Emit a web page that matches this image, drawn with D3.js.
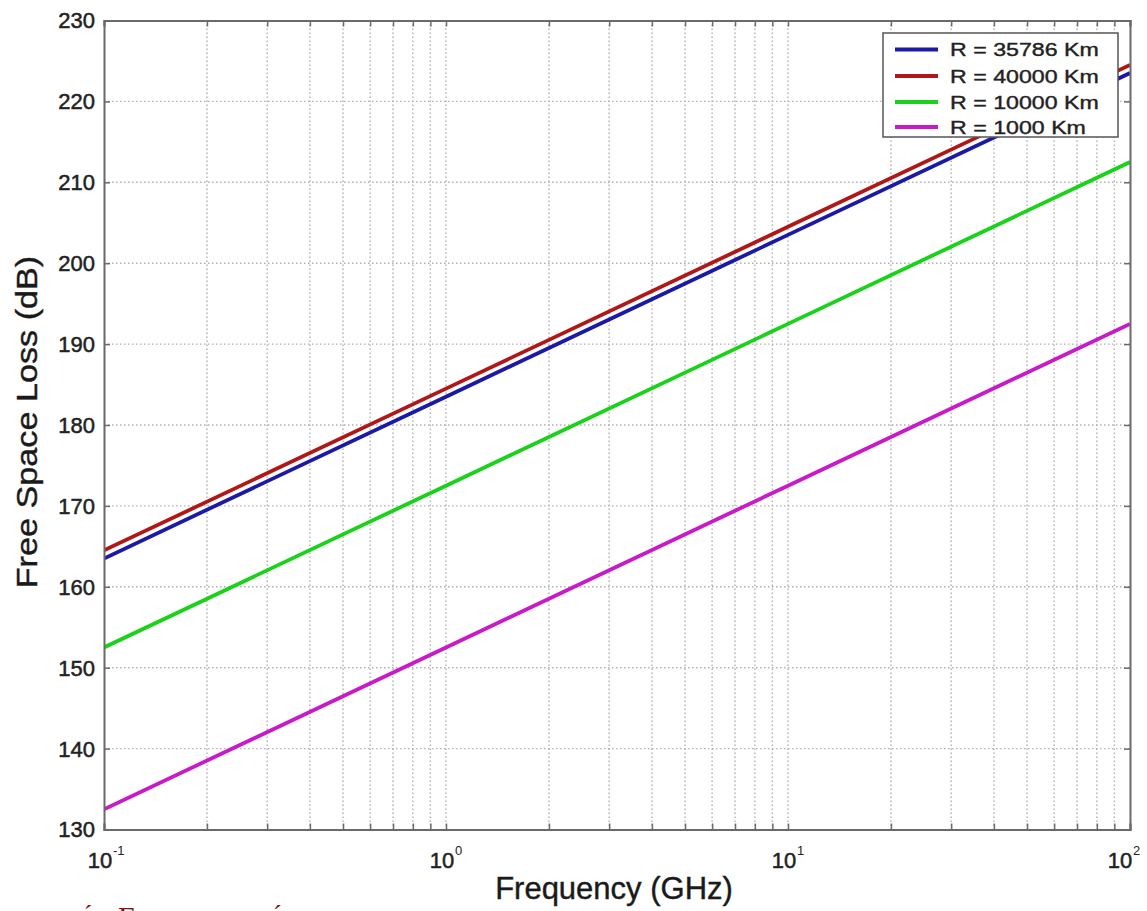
<!DOCTYPE html>
<html><head><meta charset="utf-8">
<script src="https://cdn.jsdelivr.net/npm/d3@7"></script>
<style>body{margin:0;background:#fff;} text{font-family:"Liberation Sans",Arial,sans-serif;}</style>
</head><body>
<svg id="c" width="1147" height="911"></svg>
<script>
const freqs = [0.1, 1, 10, 100];
const labels = ["R = 35786 Km", "R = 40000 Km", "R = 10000 Km", "R = 1000 Km"];
const colors = ["#1a1aa6", "#b01818", "#19d219", "#c81ac8"];
const loss35786 = [163.5, 183.5, 203.5, 223.5];
const loss40000 = [164.5, 184.5, 204.5, 224.5];
const loss10000 = [152.5, 172.5, 192.5, 212.5];
const loss1000  = [132.5, 152.5, 172.5, 192.5];
const series = [loss35786, loss40000, loss10000, loss1000];
const yTicks = [130,140,150,160,170,180,190,200,210,220,230];
const xDecades = [-1, 0, 1, 2];

const svg = d3.select("#c");
const L = 104, R = 1130, T = 20.5, B = 829.5;
const x = d3.scaleLog().domain([0.1, 100]).range([L, R]);
const y = d3.scaleLinear().domain([130, 230]).range([B, T]);

// grid
const minor = [];
for (let d = -1; d < 2; d++) for (let k = 1; k <= 9; k++) minor.push(k * Math.pow(10, d));
minor.push(100);
const g = svg.append("g");
g.selectAll("line.vg").data(minor.filter(v => v > 0.1 && v < 100)).enter().append("line")
  .attr("x1", d => x(d)).attr("x2", d => x(d)).attr("y1", T).attr("y2", B)
  .attr("stroke", "#b0b0b0").attr("stroke-width", 1.4).attr("stroke-dasharray", "1.5,2.5");
g.selectAll("line.hg").data(yTicks.filter(v => v > 130 && v < 230)).enter().append("line")
  .attr("x1", L).attr("x2", R).attr("y1", d => y(d)).attr("y2", d => y(d))
  .attr("stroke", "#b0b0b0").attr("stroke-width", 1.4).attr("stroke-dasharray", "1.5,2.5");

// clip
svg.append("clipPath").attr("id", "clip").append("rect").attr("x", L).attr("y", T).attr("width", R - L).attr("height", B - T);

const line = d3.line().x((d, i) => x(freqs[i])).y(d => y(d));
svg.append("g").attr("clip-path", "url(#clip)").selectAll("path").data(series).enter().append("path")
  .attr("d", d => line(d)).attr("fill", "none")
  .attr("stroke", (d, i) => colors[i]).attr("stroke-width", 3.8);

// axes (inward ticks)
const axB = d3.axisBottom(x).tickValues(minor).tickSize(-6).tickFormat("");
const axT = d3.axisTop(x).tickValues(minor).tickSize(-6).tickFormat("");
const axLft = d3.axisLeft(y).tickValues(yTicks).tickSize(-6).tickFormat("");
const axRgt = d3.axisRight(y).tickValues(yTicks).tickSize(-6).tickFormat("");
[[axB, `translate(0,${B})`], [axT, `translate(0,${T})`], [axLft, `translate(${L},0)`], [axRgt, `translate(${R},0)`]].forEach(([a, t]) => {
  const gg = svg.append("g").attr("transform", t).call(a);
  gg.select(".domain").attr("stroke", "#6a6a6a").attr("stroke-width", 2);
  gg.selectAll(".tick line").attr("stroke", "#6a6a6a").attr("stroke-width", 1.5);
});

// y tick labels
svg.append("g").selectAll("text").data(yTicks).enter().append("text")
  .attr("x", 95).attr("y", d => y(d)).attr("dy", "0.36em").attr("text-anchor", "end")
  .attr("font-size", 22).attr("fill", "#222").attr("stroke", "#222").attr("stroke-width", 0.5).text(d => d);

// x tick labels
const xl = svg.append("g").selectAll("g").data(xDecades).enter().append("g")
  .attr("transform", d => `translate(${x(Math.pow(10, d))},0)`);
xl.append("text").attr("x", d => d === 2 ? -10 : -4).attr("y", 868).attr("text-anchor", "middle")
  .attr("font-size", 22).attr("fill", "#222").attr("stroke", "#222").attr("stroke-width", 0.5).text("10");
xl.append("text").attr("x", d => d === 2 ? 3 : 9).attr("y", 855).attr("text-anchor", "start")
  .attr("font-size", 13).attr("fill", "#222").text(d => d);

// axis titles
svg.append("text").attr("x", 614).attr("y", 899).attr("text-anchor", "middle")
  .attr("font-size", 31).attr("fill", "#1a1a1a").attr("stroke", "#1a1a1a").attr("stroke-width", 0.4).text("Frequency (GHz)");
svg.append("text").attr("transform", "translate(37,422) rotate(-90) scale(1.14,1)").attr("text-anchor", "middle")
  .attr("font-size", 30).attr("fill", "#1a1a1a").attr("stroke", "#1a1a1a").attr("stroke-width", 0.4).text("Free Space Loss (dB)");

// legend
const lg = svg.append("g");
lg.append("rect").attr("x", 883).attr("y", 33).attr("width", 235).attr("height", 104)
  .attr("fill", "#fff").attr("stroke", "#555").attr("stroke-width", 1.5);
const rows = [49.5, 76, 102, 127];
lg.selectAll("line").data(labels).enter().append("line")
  .attr("x1", 895).attr("x2", 938).attr("y1", (d, i) => rows[i]).attr("y2", (d, i) => rows[i])
  .attr("stroke", (d, i) => colors[i]).attr("stroke-width", 3.8);
lg.selectAll("text").data(labels).enter().append("text")
  .attr("transform", (d, i) => `translate(950,${rows[i]}) scale(1.22,1)`).attr("dy", "0.36em")
  .attr("font-size", 19).attr("fill", "#222").attr("stroke", "#222").attr("stroke-width", 0.4).text(d => d);

// cropped caption at bottom (cut off by the image edge, as in the reference)
const cap = svg.append("g").attr("fill", "#8b1010").attr("style", "font-family:'Liberation Serif',serif");
cap.append("text").attr("x", 80).attr("y", 924).attr("font-size", 27).attr("style", "font-family:'Liberation Serif',serif").text("ú");
cap.append("text").attr("x", 118).attr("y", 927).attr("font-size", 30).attr("style", "font-family:'Liberation Serif',serif").text("Frequency");
cap.append("text").attr("x", 270).attr("y", 924).attr("font-size", 27).attr("style", "font-family:'Liberation Serif',serif").text("é");
</script>
</body></html>
